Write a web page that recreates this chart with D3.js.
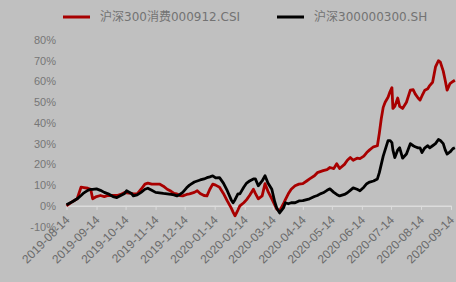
<!DOCTYPE html>
<html>
<head>
<meta charset="utf-8">
<script src="https://cdn.jsdelivr.net/npm/d3@7"></script>
<style>
  body { margin: 0; background: #c0c0c0; }
  svg { display: block; }
</style>
</head>
<body>
<script>
// series names
var seriesNames = ["沪深300消费000912.CSI", "沪深300000300.SH"];

// dates of the readings
var dates = ["2019-08-14","2019-08-20","2019-08-25","2019-08-29","2019-09-01","2019-09-05","2019-09-08","2019-09-10",
  "2019-09-14","2019-09-18","2019-09-22","2019-09-26","2019-10-01","2019-10-05","2019-10-09","2019-10-13","2019-10-15",
  "2019-10-20","2019-10-22","2019-10-26","2019-10-30","2019-11-03","2019-11-06","2019-11-10","2019-11-14","2019-11-18",
  "2019-11-22","2019-11-26","2019-11-30","2019-12-03","2019-12-06","2019-12-09","2019-12-12","2019-12-16","2019-12-19",
  "2019-12-24","2019-12-27","2019-12-30","2020-01-03","2020-01-06","2020-01-09","2020-01-12","2020-01-15","2020-01-19",
  "2020-01-23","2020-01-27","2020-01-31","2020-02-02","2020-02-04","2020-02-07","2020-02-09","2020-02-13","2020-02-16",
  "2020-02-19","2020-02-23","2020-02-25","2020-02-28","2020-03-03","2020-03-06","2020-03-09","2020-03-13","2020-03-16",
  "2020-03-18","2020-03-21","2020-03-25","2020-03-27","2020-03-30","2020-04-02","2020-04-06","2020-04-10","2020-04-14",
  "2020-04-18","2020-04-21","2020-04-26","2020-04-29","2020-05-02","2020-05-05","2020-05-09","2020-05-12","2020-05-16",
  "2020-05-19","2020-05-22","2020-05-27","2020-05-30","2020-06-02","2020-06-05","2020-06-09","2020-06-12","2020-06-16",
  "2020-06-19","2020-06-22","2020-06-26","2020-06-30","2020-07-02","2020-07-04","2020-07-06","2020-07-08","2020-07-11",
  "2020-07-13","2020-07-15","2020-07-16","2020-07-18","2020-07-21","2020-07-23","2020-07-26","2020-07-30","2020-08-03",
  "2020-08-06","2020-08-08","2020-08-11","2020-08-13","2020-08-15","2020-08-18","2020-08-21","2020-08-23","2020-08-26",
  "2020-08-29","2020-09-01","2020-09-03","2020-09-06","2020-09-08","2020-09-10","2020-09-13","2020-09-16","2020-09-18"];

// 沪深300消费 cumulative return (%)
var consumer = [0,2,3.4,9,8.8,8.5,8,3.4,4.5,5,4.5,5,5,5,5.5,6.5,6.3,6,5.8,5.8,8,10.5,11,10.5,10.5,10.5,
  9.5,8,7,6,5.8,5,4.8,5.5,5.8,6.5,7.3,6,5,4.8,8,10.5,10,9,6,2.4,-1,-3,-4.8,-2,0,1.5,3,5,8,6,3.4,4.8,10.7,7,3.4,
  0.5,-1.5,-2.4,1,3,5.8,8,9.7,10.5,10.7,12,13,14.5,16,16.5,17,17.5,18.5,18,20.3,18,20,22,23.3,22,23,22.8,24,
  25.7,27,28.5,29,35,42,47.5,50,52.4,55,57,47,48,52,48,47,50,55.8,56,54,52,51,53,55.8,56.5,58,59.6,67,70,69.3,
  65,60.6,55.8,59,60,60.6];

// 沪深300 cumulative return (%)
var hs300 = [0.5,2,3.4,5,6.3,7.5,8,8,8.2,7.5,6.5,5.8,4.5,4,5,6,7.3,6,4.8,5.3,6.5,8,8.5,7.5,6.5,6.3,
  6,5.8,5.5,5.3,4.8,5.5,6.5,8.7,10,11.5,12,12.5,13,13.6,14,14.5,13.5,13.6,11,7.3,3,1.5,3,5.8,5.8,9,11,12,13,13,
  9.7,12,14.5,11,8,2,-1,-3.4,-1,1.5,1,1.5,1.5,2.4,2.5,3,3.4,4.5,5,5.8,6.3,7.5,8.2,6.5,5.5,4.8,5.5,6.3,7.5,8.7,
  8,7.3,9,10.7,11.5,12,13,16,20,24,27,31.5,31.5,30.5,27,23.3,27,28,23,25,30,29,28.5,28,28,25.7,28,29,28,29,30,
  32,31.5,30,27,25,26,27.6,28];

// axis labels
var xTickLabels = ["2019-08-14","2019-09-14","2019-10-14","2019-11-14","2019-12-14","2020-01-14","2020-02-14",
  "2020-03-14","2020-04-14","2020-05-14","2020-06-14","2020-07-14","2020-08-14","2020-09-14"];
var yTicks = [-10, 0, 10, 20, 30, 40, 50, 60, 70, 80];

var colors = ["#a80000", "#000000"];

var width = 456, height = 282;
var parse = d3.timeParse("%Y-%m-%d");

var svg = d3.select("body").append("svg")
    .attr("width", width)
    .attr("height", height)
    .style("font-family", "'DejaVu Sans', 'Noto Sans CJK SC', sans-serif");

var x = d3.scaleTime()
    .domain([parse(xTickLabels[0]), parse(xTickLabels[xTickLabels.length - 1])])
    .range([66.5, 451]);
var y = d3.scaleLinear()
    .domain([-10, 80])
    .range([226.6, 40]);

// y labels
svg.append("g")
    .attr("transform", "translate(56,0)")
    .call(d3.axisLeft(y).tickValues(yTicks).tickSize(0).tickPadding(0)
        .tickFormat(function (d) { return d + "%"; }))
    .call(function (g) {
        g.select(".domain").remove();
        g.selectAll("text").attr("fill", "#767676").style("font-size", "11px");
    });

// x axis at 0%
var xAxis = svg.append("g")
    .attr("transform", "translate(0," + y(0) + ")")
    .call(d3.axisBottom(x).tickValues(xTickLabels.map(parse)).tickSize(4).tickSizeOuter(0)
        .tickFormat(d3.timeFormat("%Y-%m-%d")));
xAxis.select(".domain").attr("stroke", "#dcdcdc").attr("stroke-width", 1.5);
xAxis.selectAll(".tick line").attr("stroke", "#dcdcdc");
xAxis.selectAll("text")
    .attr("fill", "#6a6a6a")
    .style("font-size", "12px")
    .attr("text-anchor", "end")
    .attr("x", 0)
    .attr("y", 0)
    .attr("dy", "0.35em")
    .attr("transform", "translate(0.5,12) rotate(-45)");

// lines
var line = d3.line()
    .x(function (d) { return x(d.date); })
    .y(function (d) { return y(d.value); });

[consumer, hs300].forEach(function (vals, i) {
    var data = dates.map(function (s, j) { return { date: parse(s), value: vals[j] }; });
    svg.append("path")
        .datum(data)
        .attr("fill", "none")
        .attr("stroke", colors[i])
        .attr("stroke-width", 2.8)
        .attr("stroke-linejoin", "round")
        .attr("d", line);
});

// legend
var legendX = [63, 277];
seriesNames.forEach(function (name, i) {
    var g = svg.append("g").attr("transform", "translate(" + legendX[i] + ",17)");
    g.append("line").attr("x1", 0).attr("x2", 27)
        .attr("stroke", colors[i]).attr("stroke-width", 3);
    g.append("text").attr("x", 37).attr("dy", "0.35em")
        .attr("fill", "#737373").style("font-size", "12px")
        .text(name);
});
</script>
</body>
</html>
